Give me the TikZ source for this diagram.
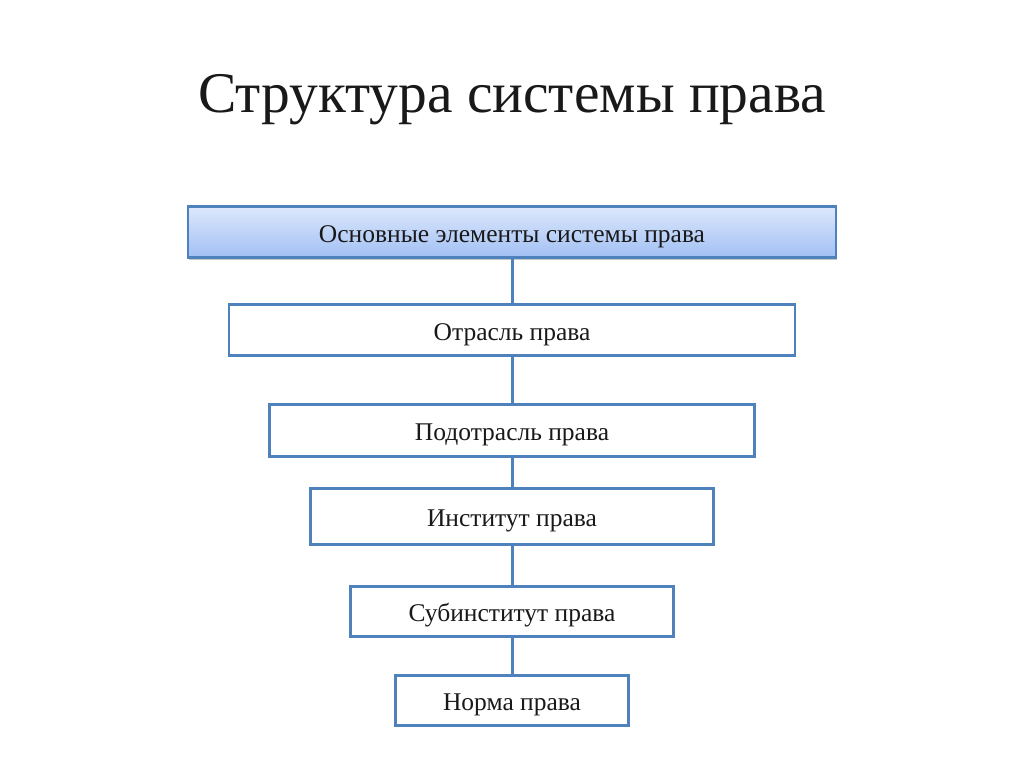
\documentclass[tikz,border=0pt]{standalone}
\usepackage{fontspec}
\setmainfont{Liberation Serif}
\usetikzlibrary{shadows}
\definecolor{edge}{HTML}{4F81BD}
\definecolor{gtop}{HTML}{DCE8FC}
\definecolor{gbot}{HTML}{A2C0F4}
\tikzset{
  box/.style={draw=edge, line width=2.6pt, fill=white, font=\fontsize{25.5}{30}\selectfont, text=black!90, inner sep=0pt, text height=20.5pt, text depth=0pt},
  topbox/.style={box, top color=gtop, bottom color=gbot, drop shadow={shadow xshift=1pt, shadow yshift=-2pt, opacity=0.35, fill=black!60}},
  link/.style={draw=edge, line width=3pt}
}
\begin{document}
\begin{tikzpicture}[x=1pt,y=-1pt]
\useasboundingbox[fill=white] (0,0) rectangle (1024,767);
\node[font=\fontsize{57.5}{64}\selectfont, text=black!90, anchor=base] (title) at (512,113) {Структура системы права};
\node[topbox, minimum width=648pt, minimum height=51pt] (b1) at (512,232) {Основные элементы системы права};
\node[box, minimum width=566pt, minimum height=51pt] (b2) at (512,330) {Отрасль права};
\node[box, minimum width=485pt, minimum height=52pt] (b3) at (512,430.5) {Подотрасль права};
\node[box, minimum width=403pt, minimum height=56pt] (b4) at (512,516.5) {Институт права};
\node[box, minimum width=323pt, minimum height=50pt] (b5) at (512,611.5) {Субинститут права};
\node[box, minimum width=233pt, minimum height=50pt] (b6) at (512,700.5) {Норма права};
\draw[link] (b1.south) -- (b2.north);
\draw[link] (b2.south) -- (b3.north);
\draw[link] (b3.south) -- (b4.north);
\draw[link] (b4.south) -- (b5.north);
\draw[link] (b5.south) -- (b6.north);
\end{tikzpicture}
\end{document}
